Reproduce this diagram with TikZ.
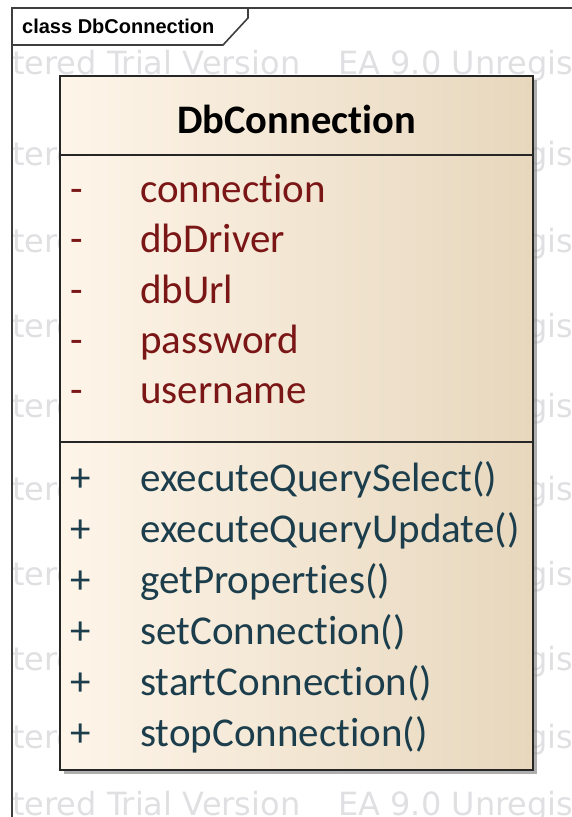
\documentclass[tikz,border=0pt]{standalone}
\usepackage{fontspec}
\setmainfont{Carlito}[Ligatures=NoCommon]
\newfontfamily\tabfont{Liberation Sans}
\newfontfamily\wmfont{DejaVu Sans}
\usetikzlibrary{shadows, positioning}
\definecolor{attrred}{RGB}{122,22,22}
\definecolor{methblue}{RGB}{28,62,76}
\definecolor{clsleft}{RGB}{254,245,233}
\definecolor{clsright}{RGB}{231,215,189}
\definecolor{framegray}{RGB}{62,62,62}
\definecolor{wmgray}{RGB}{224,224,227}
\tikzstyle{classbox} = [draw=black!85, line width=1.6pt, left color=clsleft, right color=clsright, drop shadow={shadow xshift=4pt, shadow yshift=-4pt, fill=black!45, opacity=.7}]
\tikzstyle{seprule} = [draw=black!85, line width=1.6pt]
\tikzstyle{diagframe} = [draw=framegray, line width=1.6pt]
\tikzstyle{tablabel} = [font=\tabfont\bfseries\fontsize{20}{20}\selectfont, anchor=base west, inner sep=0pt]
\tikzstyle{clsname} = [font=\bfseries\fontsize{40.5}{40.5}\selectfont, anchor=base, inner sep=0pt]
\tikzstyle{rowtxt} = [font=\fontsize{41}{41}\selectfont, anchor=west, inner sep=0pt, text height=30pt, text depth=9pt]
\tikzstyle{attr} = [rowtxt, text=attrred]
\tikzstyle{meth} = [rowtxt, text=methblue]
\tikzstyle{wmark} = [font=\wmfont\fontsize{32}{32}\selectfont, text=wmgray, anchor=base west, inner sep=0pt]

\begin{document}
\begin{tikzpicture}[x=1pt, y=-1pt, node distance=50.3pt]
\useasboundingbox (0,0) rectangle (572,817);
% watermark rows
\begin{scope}
\clip (0,0) rectangle (572,817);
\node[wmark] (w1) at (12,74) {tered Trial Version\hspace{38pt}EA 9.0 Unregistered Trial Version};
\node[wmark] (w2) at (12,165) {tered Trial Version\hspace{38pt}EA 9.0 Unregistered Trial Version};
\node[wmark] (w3) at (12,252) {tered Trial Version\hspace{38pt}EA 9.0 Unregistered Trial Version};
\node[wmark] (w4) at (12,337) {tered Trial Version\hspace{38pt}EA 9.0 Unregistered Trial Version};
\node[wmark] (w5) at (12,417) {tered Trial Version\hspace{38pt}EA 9.0 Unregistered Trial Version};
\node[wmark] (w6) at (12,500) {tered Trial Version\hspace{38pt}EA 9.0 Unregistered Trial Version};
\node[wmark] (w7) at (12,585) {tered Trial Version\hspace{38pt}EA 9.0 Unregistered Trial Version};
\node[wmark] (w8) at (12,670) {tered Trial Version\hspace{38pt}EA 9.0 Unregistered Trial Version};
\node[wmark] (w9) at (12,748) {tered Trial Version\hspace{38pt}EA 9.0 Unregistered Trial Version};
\node[wmark] (w10) at (12,815) {tered Trial Version\hspace{38pt}EA 9.0 Unregistered Trial Version};
\end{scope}
% diagram frame + tab
\draw[diagframe] (12,817) -- (12,8) -- (572,8);
\draw[diagframe] (12,45) -- (223,45) -- (248,18) -- (248,8);
\node[tablabel] (tab) at (22,33) {class DbConnection};
% class box
\path[classbox] (60,76) rectangle (533,770);
\draw[seprule] (60,155) -- (533,155);
\draw[seprule] (60,442) -- (533,442);
\node[clsname] (cls) at (296.5,133) {DbConnection};
% attributes
\node[attr] (a1) at (140,192) {connection};
\node[attr, below=of a1.west, anchor=west] (a2) {dbDriver};
\node[attr, below=of a2.west, anchor=west] (a3) {dbUrl};
\node[attr, below=of a3.west, anchor=west] (a4) {password};
\node[attr, below=of a4.west, anchor=west] (a5) {username};
\node[attr] (s1) at ([xshift=-70pt]a1.west) {-};
\node[attr] (s2) at ([xshift=-70pt]a2.west) {-};
\node[attr] (s3) at ([xshift=-70pt]a3.west) {-};
\node[attr] (s4) at ([xshift=-70pt]a4.west) {-};
\node[attr] (s5) at ([xshift=-70pt]a5.west) {-};
% operations
\begin{scope}[node distance=51pt]
\node[meth] (m1) at (140,480.5) {executeQuerySelect()};
\node[meth, below=of m1.west, anchor=west] (m2) {executeQueryUpdate()};
\node[meth, below=of m2.west, anchor=west] (m3) {getProperties()};
\node[meth, below=of m3.west, anchor=west] (m4) {setConnection()};
\node[meth, below=of m4.west, anchor=west] (m5) {startConnection()};
\node[meth, below=of m5.west, anchor=west] (m6) {stopConnection()};
\end{scope}
\node[meth] (p1) at ([xshift=-70pt]m1.west) {+};
\node[meth] (p2) at ([xshift=-70pt]m2.west) {+};
\node[meth] (p3) at ([xshift=-70pt]m3.west) {+};
\node[meth] (p4) at ([xshift=-70pt]m4.west) {+};
\node[meth] (p5) at ([xshift=-70pt]m5.west) {+};
\node[meth] (p6) at ([xshift=-70pt]m6.west) {+};
\end{tikzpicture}
\end{document}
